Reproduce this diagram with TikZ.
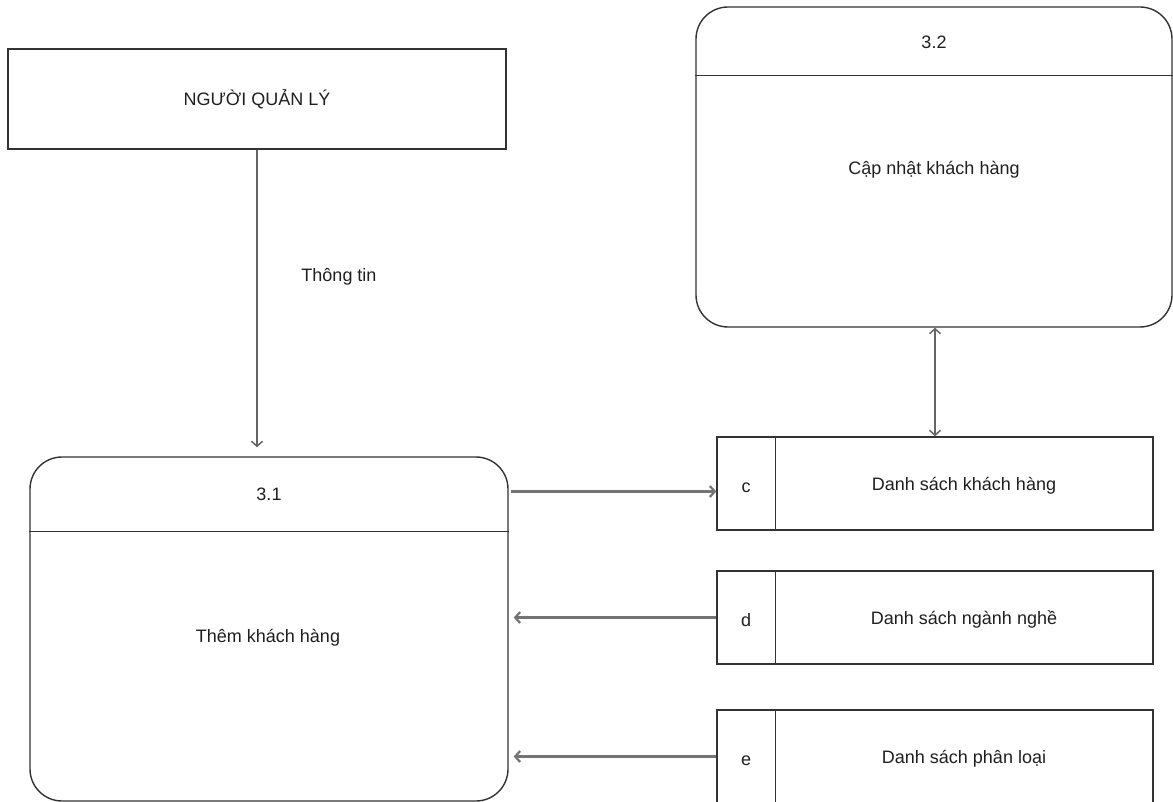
\documentclass[tikz,border=0pt]{standalone}
\usepackage{fontspec}
\setmainfont{Liberation Sans}
\usetikzlibrary{arrows.meta,calc}
\begin{document}
\begin{tikzpicture}[x=1pt,y=-1pt,
  boxline/.style={draw=black!80, line width=1.4pt},
  proc/.style={boxline, rounded corners=32pt, inner sep=0pt},
  ext/.style={boxline, inner sep=0pt},
  store/.style={boxline, inner sep=0pt, minimum width=436pt, minimum height=93pt},
  lbl/.style={font=\fontsize{18}{20}\selectfont, text=black!88, inner sep=0pt,
              text height=13pt, text depth=4pt},
  barb/.tip={Straight Barb[length=5pt,width=11pt]},
  flow/.style={draw=black!55, line width=2.2pt, -barb},
  vflow/.style={draw=black!60, line width=1.5pt}]
\useasboundingbox (0,0) rectangle (1173,802);
\clip (0,0) rectangle (1173,802);

% external entity
\node[ext, minimum width=498pt, minimum height=100pt] (mgr) at (257,99) {};
\node[lbl] (tmgr) at (257,101) {NGƯỜI QUẢN LÝ};

% process 3.2
\node[proc, minimum width=476pt, minimum height=320pt] (p32) at (934,167) {};
\draw[boxline] ($(p32.north west)+(0,69)$) -- ($(p32.north east)+(0,69)$);
\node[lbl] (t32) at (934,44) {3.2};
\node[lbl] (n32) at (934,170) {Cập nhật khách hàng};

% process 3.1
\node[proc, minimum width=478pt, minimum height=344pt] (p31) at (269,629) {};
\draw[boxline] ($(p31.north west)+(0,75)$) -- ($(p31.north east)+(0,75)$);
\node[lbl] (t31) at (269,496) {3.1};
\node[lbl] (n31) at (268,638) {Thêm khách hàng};

% data stores
\foreach \nm/\cy/\id/\txt in {sc/483.5/c/Danh sách khách hàng,
                              sd/617.5/d/Danh sách ngành nghề,
                              se/756.5/e/Danh sách phân loại}{
  \node[store] (\nm) at (935,\cy) {};
  \draw[boxline] ($(\nm.north west)+(59,0)$) -- ($(\nm.south west)+(59,0)$);
  \node[lbl] (\nm-id) at (746,\cy+4) {\id};
  \node[lbl] (\nm-name) at (964,\cy+2) {\txt};
}

% data flows
\draw[vflow, -barb] (mgr.south) -- ($(p31.north -| mgr.south)+(0,-9)$);
\node[lbl] (tinfo) at (339,277) {Thông tin};

\draw[flow] ($(p31.east |- sc.west)+(2,8)$) -- ($(sc.west)+(0,8)$);
\draw[flow] (sd.west) -- ($(p31.east |- sd.west)+(5,0)$);
\draw[flow] (se.west) -- ($(p31.east |- se.west)+(5,0)$);
\draw[vflow, barb-barb] (sc.north) -- (p32.south -| sc.north);
\end{tikzpicture}
\end{document}
